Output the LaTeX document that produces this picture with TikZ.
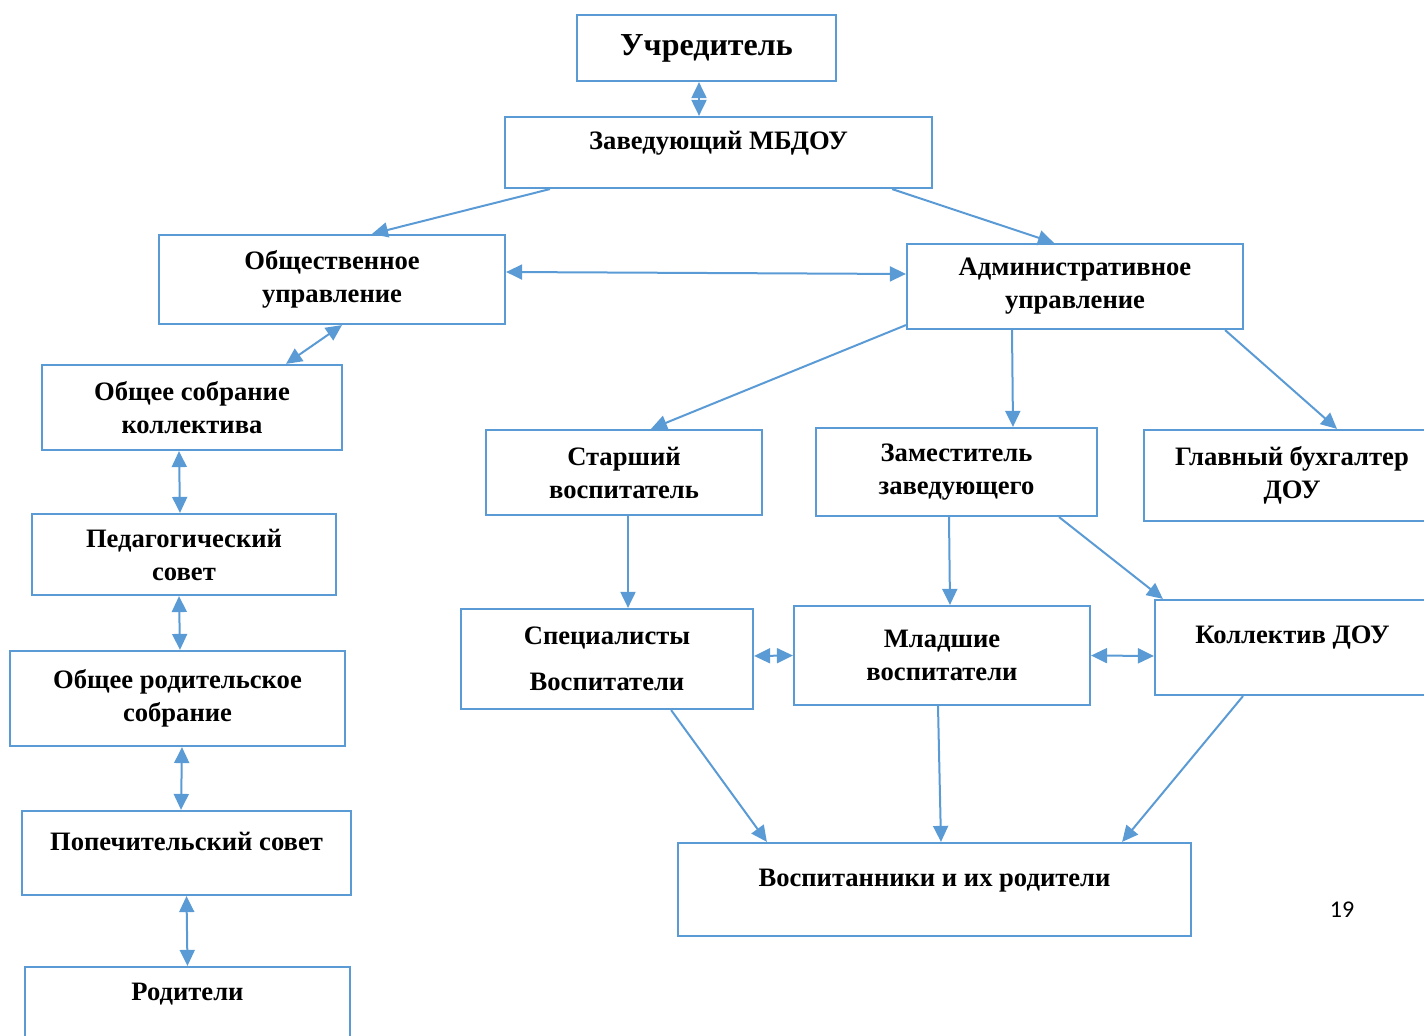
\documentclass[tikz,border=0pt]{standalone}
\usepackage{fontspec}
\setmainfont{Liberation Serif}
\newfontfamily\pagefont{Carlito}
\usetikzlibrary{arrows.meta}
\definecolor{boxblue}{HTML}{5B9BD5}
\begin{document}
\begin{tikzpicture}[x=0.5pt,y=-0.5pt,
    box/.style={draw=boxblue, line width=1.1pt, align=center, inner sep=0pt,
        font=\fontsize{13.3}{16.5}\selectfont\bfseries},
    lifted/.style={text height=9pt, text depth=#1},
    link/.style={draw=boxblue, line width=1pt, -{Triangle[length=8pt,width=7.5pt]}},
    both/.style={link, {Triangle[length=8pt,width=7.5pt]}-{Triangle[length=8pt,width=7.5pt]}}]
    \useasboundingbox (0,0) rectangle (1424,1036);
    % Top
    \node[box, minimum width=129.5pt, minimum height=33pt, font=\fontsize{16}{19}\selectfont\bfseries] (ucr) at (706.5,48) {Учредитель};
    \node[box, minimum width=213.5pt, minimum height=35.5pt, lifted=12pt] (zav) at (718.5,152.5) {Заведующий МБДОУ};
    \node[box, minimum width=173pt, minimum height=44.5pt] (obsh) at (332,279.5) {Общественное\\управление};
    \node[box, minimum width=168pt, minimum height=42.5pt] (adm) at (1075,286.5) {Административное\\управление};
    % Left column
    \node[box, minimum width=150pt, minimum height=42.5pt] (sobr) at (192,407.5) {Общее собрание\\коллектива};
    \node[box, minimum width=152pt, minimum height=40.5pt] (ped) at (184,554.5) {Педагогический\\совет};
    \node[box, minimum width=167.5pt, minimum height=47.5pt] (rodsobr) at (177.5,698.5) {Общее родительское\\собрание};
    \node[box, minimum width=164.5pt, minimum height=42pt, lifted=12pt] (pop) at (186.5,853) {Попечительский совет};
    \node[box, minimum width=162.5pt, minimum height=39pt, lifted=15pt] (rod) at (187.5,1006) {Родители};
    % Right part
    \node[box, minimum width=138pt, minimum height=42.5pt] (star) at (624,472.5) {Старший\\воспитатель};
    \node[box, minimum width=140.5pt, minimum height=44pt] (zam) at (956.5,472) {Заместитель\\заведующего};
    \node[box, minimum width=148pt, minimum height=45.5pt] (buh) at (1292,475.5) {Главный бухгалтер\\ДОУ};
    \node[box, minimum width=146pt, minimum height=50pt] (spec) at (607,659) {Специалисты\\[6.5pt]Воспитатели};
    \node[box, minimum width=148pt, minimum height=49.5pt] (mlad) at (942,655.5) {Младшие\\воспитатели};
    \node[box, minimum width=137.5pt, minimum height=47.5pt, lifted=13pt] (koll) at (1292.5,647.5) {Коллектив ДОУ};
    \node[box, minimum width=256.5pt, minimum height=46.5pt, lifted=12pt] (vosp) at (934.5,889.5) {Воспитанники и их родители};
    \node[font=\pagefont\fontsize{12}{14}\selectfont] (num) at (1342,910) {19};
    % Links
    \draw[both] ([xshift=-3.75pt]ucr.south) -- ([xshift=-9.75pt]zav.north);
    \draw[link] ([xshift=23pt]zav.south west) -- ([xshift=20pt]obsh.north);
    \draw[link] ([xshift=-20.5pt]zav.south east) -- ([xshift=-10.5pt]adm.north);
    \draw[both] ([yshift=3.75pt]obsh.east) -- ([yshift=6.25pt]adm.west);
    \draw[both] ([xshift=5pt]obsh.south) -- ([xshift=47pt]sobr.north);
    \draw[both] ([xshift=-6.5pt]sobr.south) -- ([xshift=-2pt]ped.north);
    \draw[both] ([xshift=-2.5pt]ped.south) -- ([xshift=1.25pt]rodsobr.north);
    \draw[both] ([xshift=2.25pt]rodsobr.south) -- ([xshift=-2.75pt]pop.north);
    \draw[both] (pop.south) -- (rod.north);
    \draw[link] ([yshift=2.5pt]adm.south west) -- ([xshift=13.5pt]star.north);
    \draw[link] ([xshift=-31.5pt]adm.south) -- ([xshift=28.25pt]zam.north);
    \draw[link] ([xshift=-9.5pt]adm.south east) -- ([xshift=22.5pt]buh.north);
    \draw[link] ([xshift=2pt]star.south) -- ([xshift=10.5pt]spec.north);
    \draw[link] ([xshift=-3.75pt]zam.south) -- ([xshift=4pt]mlad.north);
    \draw[link] ([xshift=-19.5pt]zam.south east) -- ([xshift=4.5pt]koll.north west);
    \draw[both] ([yshift=1.5pt]spec.east) -- (mlad.west);
    \draw[both] (mlad.east) -- ([yshift=-4.25pt]koll.west);
    \draw[link] ([xshift=-41.5pt]spec.south east) -- ([xshift=45pt]vosp.north west);
    \draw[link] ([xshift=-2pt]mlad.south) -- ([xshift=3.25pt]vosp.north);
    \draw[link] ([xshift=-24.75pt]koll.south) -- ([xshift=-35pt]vosp.north east);
\end{tikzpicture}
\end{document}
